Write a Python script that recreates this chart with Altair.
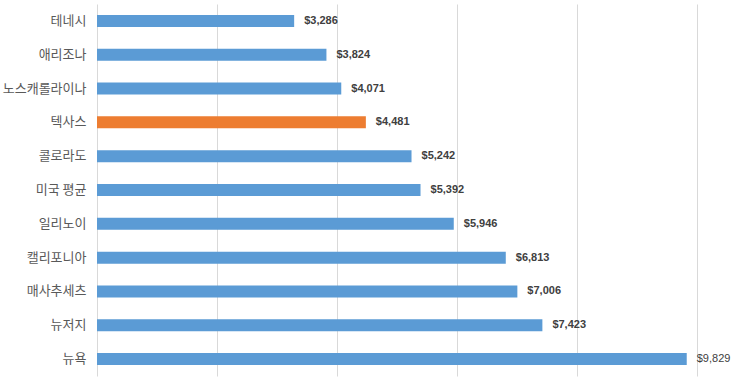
import altair as alt
import pandas as pd

states = ["테네시", "애리조나", "노스캐롤라이나", "텍사스", "콜로라도", "미국 평균",
          "일리노이", "캘리포니아", "매사추세츠", "뉴저지", "뉴욕"]
values = [3286, 3824, 4071, 4481, 5242, 5392, 5946, 6813, 7006, 7423, 9829]
highlight = ["텍사스"]

df = pd.DataFrame({"state": states, "value": values})
df["hl"] = df["state"].isin(highlight)
df["label"] = df["value"].map(lambda v: f"${v:,}")
df["bold"] = df["value"] < 9000

y = alt.Y("state:N", sort=states, title=None,
          scale=alt.Scale(paddingInner=0.64, paddingOuter=0.32),
          axis=alt.Axis(domain=False, ticks=False, labelPadding=11, labelFontSize=13,
                        labelColor="#595959", labelFont="Noto Sans CJK KR", grid=False))
x = alt.X("value:Q", title=None, scale=alt.Scale(domain=[0, 10000], nice=False),
          axis=alt.Axis(values=[0, 2000, 4000, 6000, 8000, 10000], labels=False, ticks=False,
                        domain=False, grid=True, gridColor="#d9d9d9", gridWidth=1))

base = alt.Chart(df)
bars = base.mark_bar(size=12).encode(
    x=x, y=y,
    color=alt.condition("datum.hl", alt.value("#ED7D31"), alt.value("#5B9BD5")),
)
text_bold = base.transform_filter("datum.bold").mark_text(
    align="left", baseline="middle", dx=10, fontSize=11, fontWeight="bold",
    font="Liberation Sans", color="#404040").encode(
    x="value:Q", y=alt.Y("state:N", sort=states), text="label:N")
text_norm = base.transform_filter("!datum.bold").mark_text(
    align="left", baseline="middle", dx=10, fontSize=11,
    font="Liberation Sans", color="#404040").encode(
    x="value:Q", y=alt.Y("state:N", sort=states), text="label:N")

chart = (bars + text_bold + text_norm).properties(
    width=600, height=372,
    background="white",
    autosize=alt.AutoSizeParams(type="none"),
    padding={"left": 97, "top": 4, "right": 46, "bottom": 1},
).configure_view(stroke=None)

chart.save("out.html", embed_options={"renderer": "svg", "actions": False})
